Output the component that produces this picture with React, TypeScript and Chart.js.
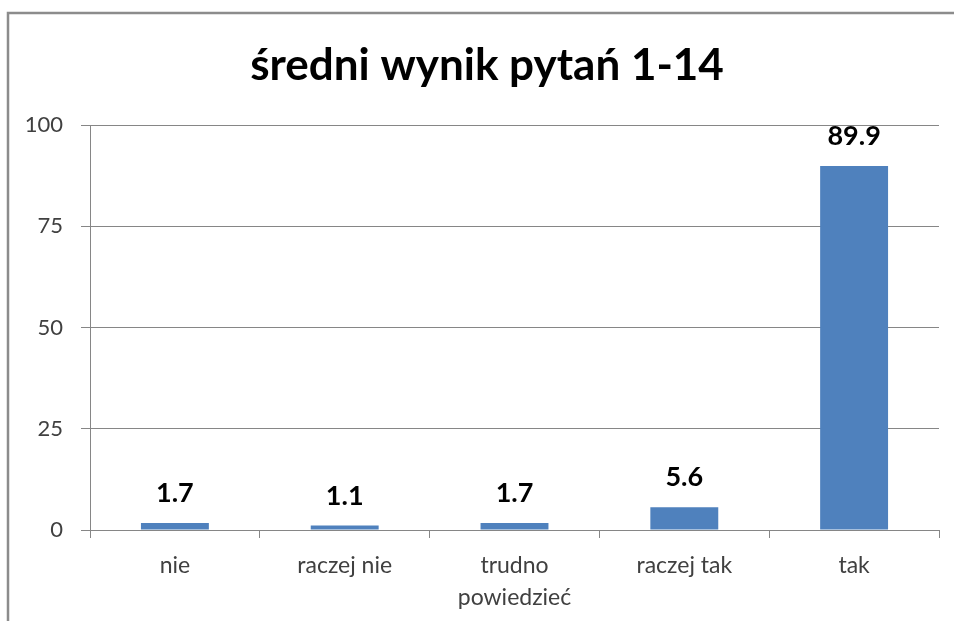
import React, { useEffect, useRef } from "react";
import { Chart, registerables } from "chart.js";

Chart.register(...registerables);

const titleText = "średni wynik pytań 1-14";
const categories: (string | string[])[] = ["nie", "raczej nie", ["trudno", "powiedzieć"], "raczej tak", "tak"];
const values = [1.7, 1.1, 1.7, 5.6, 89.9];
const yTicks = [0, 25, 50, 75, 100];

const FONT = "Lato, 'Open Sans', sans-serif";

const overlay = {
  id: "overlay",
  afterDraw(chart: any) {
    const ctx = chart.ctx;
    ctx.save();
    // frame
    ctx.strokeStyle = "#8c8c8c";
    ctx.lineWidth = 2.5;
    ctx.beginPath();
    ctx.moveTo(8, 621);
    ctx.lineTo(8, 13);
    ctx.lineTo(954, 13);
    ctx.stroke();
    // title
    ctx.fillStyle = "#000";
    ctx.font = `bold 44px ${FONT}`;
    ctx.textAlign = "center";
    ctx.textBaseline = "alphabetic";
    ctx.fillText(titleText, 487, 80);
    // data labels
    const meta = chart.getDatasetMeta(0);
    ctx.font = `bold 27px ${FONT}`;
    meta.data.forEach((bar: any, i: number) => {
      ctx.fillText(values[i].toFixed(1), bar.x, bar.y - 21);
    });
    ctx.restore();
  },
};

export default function App() {
  const ref = useRef<HTMLCanvasElement>(null);
  useEffect(() => {
    document.body.style.margin = "0";
    const chart = new Chart(ref.current!, {
      type: "bar",
      data: {
        labels: categories as any,
        datasets: [
          {
            data: values,
            backgroundColor: "#4F81BD",
            categoryPercentage: 1,
            barPercentage: 0.4,
          },
        ],
      },
      options: {
        animation: false,
        responsive: false,
        layout: { padding: { left: 0, right: 15, top: 125, bottom: 0 } },
        plugins: { legend: { display: false }, title: { display: false }, tooltip: { enabled: false } },
        scales: {
          x: {
            grid: { offset: true, drawOnChartArea: false, drawTicks: true, tickLength: 8, color: "#868686" },
            border: { color: "#868686" },
            ticks: { color: "#404040", font: { family: FONT, size: 23, lineHeight: 1.4 }, padding: 11, maxRotation: 0 },
            afterFit: (s: any) => { s.height = 91; },
          },
          y: {
            min: 0,
            max: 100,
            afterBuildTicks: (s: any) => { s.ticks = yTicks.map((v) => ({ value: v })); },
            grid: { color: "#868686", tickLength: 9 },
            border: { color: "#868686" },
            ticks: { color: "#404040", font: { family: FONT, size: 22 }, padding: 18 },
            afterFit: (s: any) => { s.width = 90; },
          },
        },
      },
      plugins: [overlay],
    });
    return () => chart.destroy();
  }, []);
  return <canvas ref={ref} width={954} height={621} style={{ display: "block" }} />;
}
